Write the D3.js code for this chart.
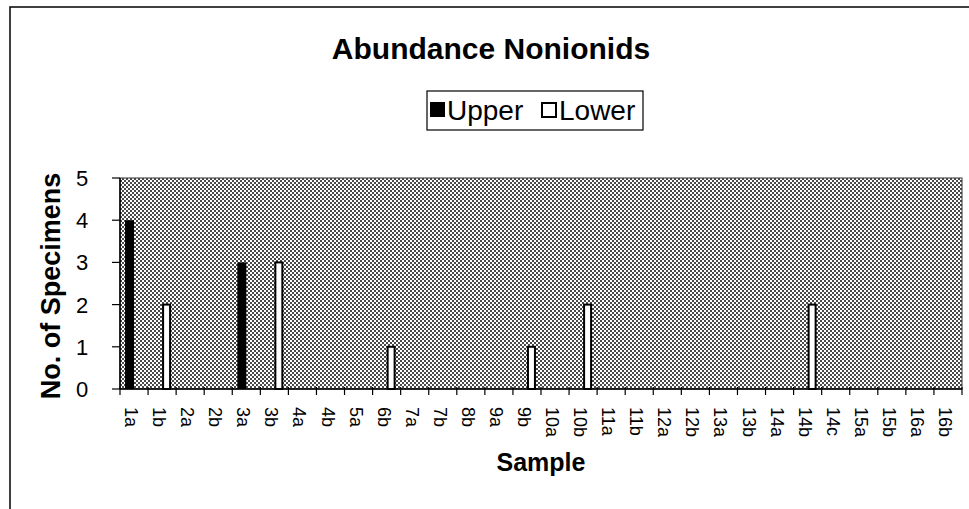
<!DOCTYPE html>
<html><head><meta charset="utf-8">
<script src="https://cdn.jsdelivr.net/npm/d3@7"></script>
<style>body{margin:0;background:#fff}svg{display:block;font-family:"Liberation Sans",Arial,sans-serif}</style>
</head><body>
<script>
const categories = ["1a","1b","2a","2b","3a","3b","4a","4b","5a","6b","7a","7b","8b","9a","9b","10a","10b","11a","11b","12a","12b","13a","13b","14a","14b","14c","15a","15b","16a","16b"];
const upperValues = [4,0,0,0,3,0,0,0,0,0,0,0,0,0,0,0,0,0,0,0,0,0,0,0,0,0,0,0,0,0];
const lowerValues = [0,2,0,0,0,3,0,0,0,1,0,0,0,0,1,0,2,0,0,0,0,0,0,0,2,0,0,0,0,0];
const seriesNames = ["Upper","Lower"];
const yTicks = [0,1,2,3,4,5];

const W = 969, H = 509;
const svg = d3.select("body").append("svg").attr("width", W).attr("height", H);
const defs = svg.append("defs");
const pat = defs.append("pattern").attr("id","dots").attr("patternUnits","userSpaceOnUse").attr("width",4).attr("height",4);
pat.append("rect").attr("width",4).attr("height",4).attr("fill","#fff");
pat.append("rect").attr("x",0).attr("y",0).attr("width",2).attr("height",2).attr("fill","#4a4a4a");
pat.append("rect").attr("x",2).attr("y",2).attr("width",2).attr("height",2).attr("fill","#4a4a4a");

// outer frame
svg.append("rect").attr("x",10).attr("y",7).attr("width",W).attr("height",H).attr("fill","none").attr("stroke","#000").attr("stroke-width",1.5);

const L = 120, R = 962, T = 178, B = 389;
const x = d3.scaleBand().domain(categories).range([L, R]).padding(0);
const bw = x.bandwidth();
const x1 = d3.scaleBand().domain(seriesNames).range([bw*0.18, bw*0.82]).padding(0);
const y = d3.scaleLinear().domain([0,5]).range([B, T]);

svg.append("rect").attr("x",L).attr("y",T).attr("width",R-L).attr("height",B-T).attr("fill","url(#dots)").attr("stroke","#333").attr("stroke-width",1);

const rows = categories.map((c,i)=>({c, Upper: upperValues[i], Lower: lowerValues[i]}));
const g = svg.append("g");
rows.forEach(r=>{
  seriesNames.forEach(s=>{
    if (r[s] > 0) {
      g.append("rect")
        .attr("x", x(r.c) + x1(s) + (s==="Lower"?1:0))
        .attr("y", y(r[s]))
        .attr("width", x1.bandwidth() - (s==="Lower"?2:0))
        .attr("height", B - y(r[s]))
        .attr("fill", s==="Upper" ? "#000" : "#fff")
        .attr("stroke", "#000")
        .attr("stroke-width", s==="Upper"?0:2);
    }
  });
});

// x axis
const xa = svg.append("g").attr("transform",`translate(0,${B})`);
xa.append("line").attr("x1",L).attr("x2",R).attr("stroke","#000").attr("stroke-width",1.5);
const bounds = categories.map(c=>x(c)).concat([R]);
xa.selectAll("line.t").data(bounds).enter().append("line").attr("class","t")
  .attr("x1",d=>d).attr("x2",d=>d).attr("y1",-2).attr("y2",6).attr("stroke","#000").attr("stroke-width",1.2);
xa.selectAll("text").data(categories).enter().append("text")
  .attr("transform",d=>`translate(${x(d)+bw/2-3},18) rotate(90)`)
  .attr("dominant-baseline","central")
  .attr("font-size",18).text(d=>d);

// y axis
const ya = svg.append("g");
ya.append("line").attr("x1",L).attr("x2",L).attr("y1",T).attr("y2",B).attr("stroke","#000").attr("stroke-width",1.5);
ya.selectAll("line.t").data(yTicks).enter().append("line").attr("class","t")
  .attr("x1",L-8).attr("x2",L).attr("y1",d=>y(d)).attr("y2",d=>y(d)).attr("stroke","#000").attr("stroke-width",1.2);
ya.selectAll("text").data(yTicks).enter().append("text")
  .attr("x",L-38).attr("y",d=>y(d)).attr("dy","0.36em").attr("text-anchor","middle")
  .attr("font-size",22).text(d=>d);

// titles
svg.append("text").attr("x",491).attr("y",59).attr("text-anchor","middle").attr("font-size",30).attr("font-weight","bold").text("Abundance Nonionids");
svg.append("text").attr("transform","translate(60,286) rotate(-90)").attr("text-anchor","middle").attr("font-size",27).attr("font-weight","bold").text("No. of Specimens");
svg.append("text").attr("x",(L+R)/2).attr("y",471).attr("text-anchor","middle").attr("font-size",25).attr("font-weight","bold").text("Sample");

// legend
const lg = svg.append("g");
lg.append("rect").attr("x",427).attr("y",91).attr("width",216).attr("height",39).attr("fill","#fff").attr("stroke","#000").attr("stroke-width",1.2);
lg.append("rect").attr("x",430).attr("y",102).attr("width",15).attr("height",15).attr("fill","#000");
lg.append("text").attr("x",447).attr("y",120).attr("font-size",28).text(seriesNames[0]);
lg.append("rect").attr("x",542).attr("y",103).attr("width",14).attr("height",14).attr("fill","#fff").attr("stroke","#000").attr("stroke-width",2);
lg.append("text").attr("x",559).attr("y",120).attr("font-size",28).text(seriesNames[1]);
</script>
</body></html>
